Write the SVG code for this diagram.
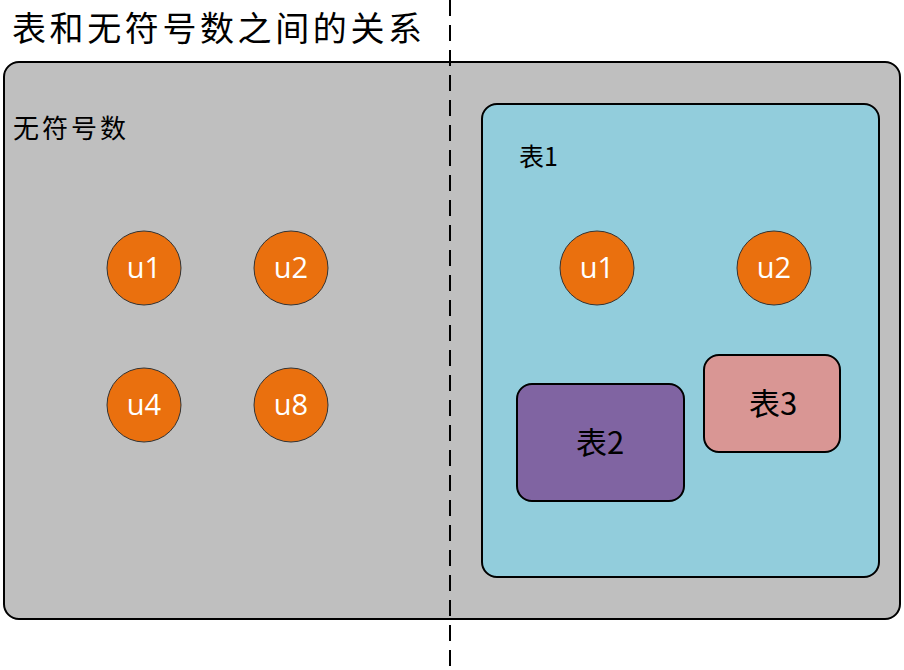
<svg xmlns="http://www.w3.org/2000/svg" width="904" height="670" viewBox="0 0 904 670">
<style>
.cjk{font-family:"Noto Sans CJK SC","Liberation Sans",sans-serif;fill:#000}
.u{fill:#EA700E;stroke:#333;stroke-width:1}
.ut{font-family:"Open Sans","Liberation Sans",sans-serif;font-size:29px;fill:#fff;text-anchor:middle}
.box{stroke:#000;stroke-width:2}
</style>
<rect width="904" height="670" fill="#fff"/>
<g id="title"><text class="cjk" x="12" y="41" font-size="34" textLength="410" lengthAdjust="spacing">表和无符号数之间的关系</text></g>
<g id="outer">
<rect class="box" x="4" y="62" width="896" height="557" rx="15" fill="#BFBFBF"/>
<text class="cjk" x="13" y="138" font-size="26" textLength="113" lengthAdjust="spacing">无符号数</text>
</g>
<g id="left-u1"><circle class="u" cx="144" cy="268" r="37"/><text class="ut" x="144" y="278">u1</text></g>
<g id="left-u2"><circle class="u" cx="291" cy="268" r="37"/><text class="ut" x="291" y="278">u2</text></g>
<g id="left-u4"><circle class="u" cx="144" cy="405" r="37"/><text class="ut" x="144" y="415">u4</text></g>
<g id="left-u8"><circle class="u" cx="291" cy="405" r="37"/><text class="ut" x="291" y="415">u8</text></g>
<g id="table1">
<rect class="box" x="482" y="104" width="397" height="473" rx="15" fill="#92CDDC"/>
<text class="cjk" x="519" y="166" font-size="25">表1</text>
</g>
<g id="t1-u1"><circle class="u" cx="597" cy="268" r="37"/><text class="ut" x="597" y="278">u1</text></g>
<g id="t1-u2"><circle class="u" cx="774" cy="268" r="37"/><text class="ut" x="774" y="278">u2</text></g>
<g id="table2">
<rect class="box" x="517" y="384" width="167" height="117" rx="15" fill="#8064A2"/>
<text class="cjk" x="600" y="454" font-size="31" text-anchor="middle">表2</text>
</g>
<g id="table3">
<rect class="box" x="704" y="355" width="136" height="97" rx="15" fill="#D99694"/>
<text class="cjk" x="773" y="415" font-size="31" text-anchor="middle">表3</text>
</g>
<g id="connectors">
<line x1="450" y1="0" x2="450" y2="670" stroke="#000" stroke-width="2" stroke-dasharray="16 9"/>
</g>
</svg>
